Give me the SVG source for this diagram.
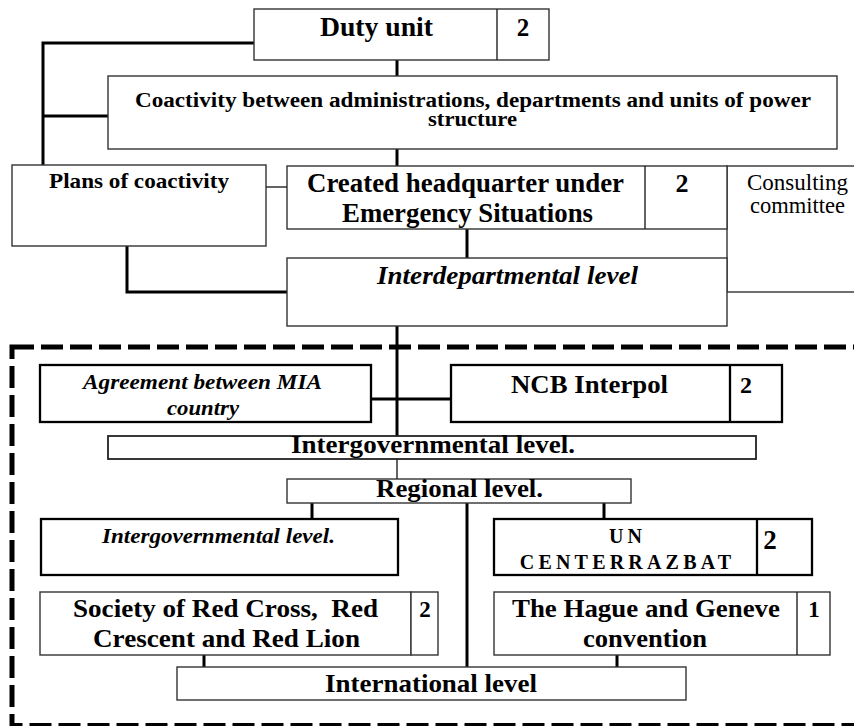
<svg xmlns="http://www.w3.org/2000/svg" width="854" height="726" viewBox="0 0 854 726">
<style>
.box{fill:#fff;stroke:#333;stroke-width:1.4}
.tbox{fill:#fff;stroke:#000;stroke-width:2.3}
.mbox{fill:#fff;stroke:#222;stroke-width:1.8}
.con{fill:none;stroke:#000;stroke-width:3}
.thin{fill:none;stroke:#222;stroke-width:1.4}
.dash{fill:none;stroke:#000;stroke-width:5;stroke-dasharray:22 7}
.t{font-family:'Liberation Serif','Times New Roman',serif;fill:#000;text-anchor:middle}
.b{font-weight:bold}
.bi{font-weight:bold;font-style:italic}
.r{font-weight:normal}
</style>
<rect class="dash" x="12" y="347" width="860" height="378.5"/>
<g id="connectors">
<polyline class="con" points="254,43 43,43 43,165"/>
<line class="con" x1="43" y1="116" x2="108" y2="116"/>
<line class="con" x1="397" y1="60" x2="397" y2="76"/>
<line class="con" x1="397" y1="149" x2="397" y2="166"/>
<line class="thin" x1="266" y1="187" x2="287" y2="187"/>
<line class="con" x1="467" y1="229" x2="467" y2="258"/>
<polyline class="con" points="127,246 127,292 287,292"/>
<line class="con" x1="397" y1="326" x2="397" y2="436"/>
<line class="con" x1="371" y1="399" x2="451" y2="399"/>
<line class="thin" x1="397" y1="459" x2="397" y2="479"/>
<line class="con" x1="312" y1="503" x2="312" y2="519"/>
<line class="con" x1="467" y1="503" x2="467" y2="667"/>
<line class="con" x1="604" y1="503" x2="604" y2="519"/>
<line class="con" x1="204" y1="655" x2="204" y2="667"/>
<line class="con" x1="617" y1="655" x2="617" y2="667"/>
</g>
<g id="duty">
<rect class="box" x="254" y="9" width="295" height="51"/>
<line class="thin" x1="497" y1="9" x2="497" y2="60"/>
<text class="t b" x="376.5" y="36" font-size="26.5" textLength="113" lengthAdjust="spacingAndGlyphs">Duty unit</text>
<text class="t b" x="523" y="36" font-size="25">2</text>
</g>
<g id="coactivity">
<rect class="box" x="108" y="76" width="729" height="73"/>
<text class="t b" x="473" y="107" font-size="20" textLength="676" lengthAdjust="spacingAndGlyphs">Coactivity between administrations, departments and units of power</text>
<text class="t b" x="472.5" y="125.5" font-size="20" textLength="89" lengthAdjust="spacingAndGlyphs">structure</text>
</g>
<g id="plans">
<rect class="box" x="12" y="165" width="254" height="81"/>
<text class="t b" x="139" y="188" font-size="21.5" textLength="180" lengthAdjust="spacingAndGlyphs">Plans of coactivity</text>
</g>
<g id="consulting">
<rect class="box" x="727" y="166" width="140" height="126"/>
<text class="t r" x="797.5" y="190" font-size="23" textLength="101" lengthAdjust="spacingAndGlyphs">Consulting</text>
<text class="t r" x="797.5" y="213" font-size="23" textLength="95" lengthAdjust="spacingAndGlyphs">committee</text>
</g>
<g id="headquarter">
<rect class="box" x="287" y="166" width="440" height="63"/>
<line class="thin" x1="645" y1="166" x2="645" y2="229"/>
<text class="t b" x="465.5" y="192" font-size="26.5" textLength="317" lengthAdjust="spacingAndGlyphs">Created headquarter under</text>
<text class="t b" x="467.5" y="222" font-size="26.5" textLength="251" lengthAdjust="spacingAndGlyphs">Emergency Situations</text>
<text class="t b" x="682" y="192" font-size="26">2</text>
</g>
<g id="interdepartmental">
<rect class="box" x="287" y="258" width="440" height="68"/>
<text class="t bi" x="507.5" y="284" font-size="26" textLength="261" lengthAdjust="spacingAndGlyphs">Interdepartmental level</text>
</g>
<g id="agreement">
<rect class="tbox" x="40" y="365" width="331" height="57"/>
<text class="t bi" x="202.5" y="389" font-size="22" textLength="239" lengthAdjust="spacingAndGlyphs">Agreement between MIA</text>
<text class="t bi" x="203" y="415" font-size="22" textLength="72" lengthAdjust="spacingAndGlyphs">country</text>
</g>
<g id="ncb">
<rect class="tbox" x="451" y="365" width="331" height="57"/>
<line class="tbox" x1="730" y1="365" x2="730" y2="422"/>
<text class="t b" x="589.5" y="393" font-size="25.5" textLength="157" lengthAdjust="spacingAndGlyphs">NCB Interpol</text>
<text class="t b" x="746" y="393" font-size="24">2</text>
</g>
<g id="intergov-bar">
<rect class="mbox" x="108" y="436" width="648" height="23"/>
<text class="t b" x="433" y="453" font-size="25.5" textLength="284" lengthAdjust="spacingAndGlyphs">Intergovernmental level.</text>
</g>
<g id="regional">
<rect class="box" x="287" y="479" width="344" height="24"/>
<text class="t b" x="459.5" y="497" font-size="25" textLength="167" lengthAdjust="spacingAndGlyphs">Regional level.</text>
</g>
<g id="intergov-italic">
<rect class="tbox" x="41" y="519" width="357" height="56"/>
<text class="t bi" x="218.5" y="543" font-size="21" textLength="233" lengthAdjust="spacingAndGlyphs">Intergovernmental level.</text>
</g>
<g id="un">
<rect class="tbox" x="494" y="519" width="318" height="56"/>
<line class="tbox" x1="757" y1="519" x2="757" y2="575"/>
<text class="t b" x="627.5" y="543" font-size="20" letter-spacing="4">UN</text>
<text class="t b" x="627.6" y="569" font-size="20" letter-spacing="4.2">CENTERRAZBAT</text>
<text class="t b" x="770" y="549" font-size="27">2</text>
</g>
<g id="society">
<rect class="box" x="40" y="592" width="371" height="63"/>
<rect class="box" x="411" y="592" width="27" height="63"/>
<text class="t b" x="225.5" y="617" font-size="25" textLength="305" lengthAdjust="spacingAndGlyphs">Society of Red Cross,&#160; Red</text>
<text class="t b" x="226.5" y="647" font-size="25" textLength="267" lengthAdjust="spacingAndGlyphs">Crescent and Red Lion</text>
<text class="t b" x="425" y="617" font-size="23">2</text>
</g>
<g id="hague">
<rect class="box" x="494" y="592" width="336" height="63"/>
<line class="thin" x1="797" y1="592" x2="797" y2="655"/>
<text class="t b" x="646" y="617" font-size="25" textLength="268" lengthAdjust="spacingAndGlyphs">The Hague and Geneve</text>
<text class="t b" x="645" y="647" font-size="25" textLength="124" lengthAdjust="spacingAndGlyphs">convention</text>
<text class="t b" x="814" y="617" font-size="23">1</text>
</g>
<g id="international">
<rect class="box" x="177" y="667" width="509" height="33"/>
<text class="t b" x="431" y="692" font-size="25" textLength="212" lengthAdjust="spacingAndGlyphs">International level</text>
</g>
</svg>
